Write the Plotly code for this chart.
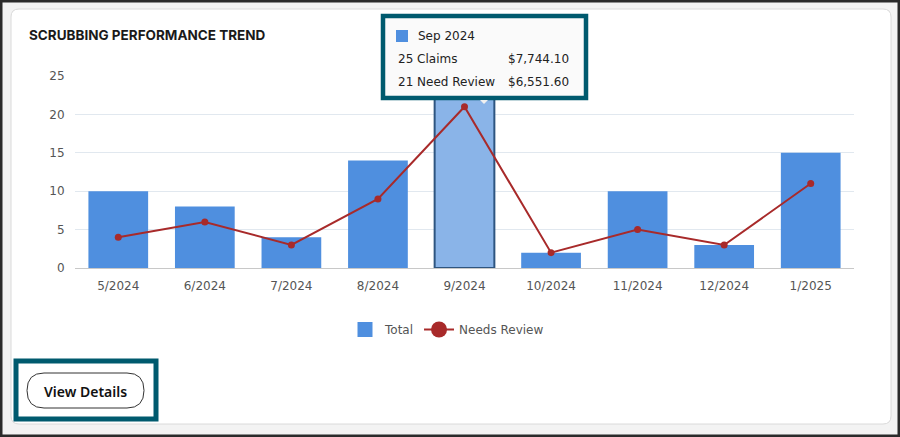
import plotly.graph_objects as go

# ---------- 数据 ----------
months = ["5/2024", "6/2024", "7/2024", "8/2024", "9/2024",
          "10/2024", "11/2024", "12/2024", "1/2025"]
total_claims = [10, 8, 4, 14, 25, 2, 10, 3, 15]
needs_review = [4, 6, 3, 9, 21, 2, 5, 3, 11]
highlight = "9/2024"

tip_title = "Sep 2024"
tip_rows = [("25 Claims", "$7,744.10"), ("21 Need Review", "$6,551.60")]

W, H = 900, 437
L, R, T, B = 75, 46, 76, 169       # 绘图区边距
PW, PH = W - L - R, H - T - B


def px(x):
    return (x - L) / PW


def py(y):
    return (H - B - y) / PH


BLUE = "#4f8fdf"
RED = "#a82a2a"
TEAL = "#005a6e"
FONT = "DejaVu Sans"

bar_colors = ["#8ab4e8" if m == highlight else BLUE for m in months]
bar_lines = ["#2e5580" if m == highlight else BLUE for m in months]
bar_widths = [2 if m == highlight else 0 for m in months]

fig = go.Figure()
fig.add_trace(go.Bar(x=months, y=total_claims, name="Total", showlegend=False,
                     marker=dict(color=bar_colors,
                                 line=dict(color=bar_lines, width=bar_widths))))
fig.add_trace(go.Scatter(x=months, y=needs_review, name="Needs Review",
                         mode="lines+markers", showlegend=False, cliponaxis=False,
                         line=dict(color=RED, width=2),
                         marker=dict(color=RED, size=7)))
# 图例用的占位 trace（图例符号比图上的大）
fig.add_trace(go.Scatter(x=[months[0]], y=[None], name="Total", mode="markers",
                         marker=dict(symbol="square", color=BLUE, size=15)))
fig.add_trace(go.Scatter(x=[months[0]], y=[None], name="Needs Review",
                         mode="lines+markers", line=dict(color=RED, width=2),
                         marker=dict(color=RED, size=16)))

shapes = [
    # 外框 + 卡片
    dict(type="rect", xref="paper", yref="paper", layer="below",
         x0=px(0), x1=px(W), y0=py(H), y1=py(0),
         fillcolor="#f3f3f3", line=dict(color="#2b2b2b", width=5)),
    dict(type="path", xref="paper", yref="paper", layer="below",
         path=(f"M {px(19)} {py(9)} L {px(883)} {py(9)} "
               f"Q {px(891)} {py(9)} {px(891)} {py(17)} "
               f"L {px(891)} {py(416)} Q {px(891)} {py(424)} {px(883)} {py(424)} "
               f"L {px(19)} {py(424)} Q {px(11)} {py(424)} {px(11)} {py(416)} "
               f"L {px(11)} {py(17)} Q {px(11)} {py(9)} {px(19)} {py(9)} Z"),
         fillcolor="white", line=dict(color="#dadada", width=1)),
    # tooltip
    dict(type="rect", xref="paper", yref="paper", layer="above",
         x0=px(383), x1=px(586), y0=py(98), y1=py(16),
         fillcolor="#fafafa", line=dict(color=TEAL, width=4.5)),
    dict(type="rect", xref="paper", yref="paper", layer="above",
         x0=px(396), x1=px(408), y0=py(42), y1=py(30),
         fillcolor=BLUE, line=dict(width=0)),
    dict(type="path", xref="paper", yref="paper", layer="above",
         path=f"M {px(480)} {py(100)} L {px(488)} {py(100)} L {px(484)} {py(104)} Z",
         fillcolor="#f0f0f0", line=dict(width=0)),
    # View Details 按钮
    dict(type="rect", xref="paper", yref="paper", layer="above",
         x0=px(16), x1=px(156), y0=py(419), y1=py(361),
         fillcolor="white", line=dict(color=TEAL, width=5)),
    dict(type="path", xref="paper", yref="paper", layer="above",
         path=(f"M {px(44)} {py(373)} L {px(127)} {py(373)} "
               f"Q {px(144)} {py(373)} {px(144)} {py(390.5)} "
               f"Q {px(144)} {py(408)} {px(127)} {py(408)} "
               f"L {px(44)} {py(408)} Q {px(27)} {py(408)} {px(27)} {py(390.5)} "
               f"Q {px(27)} {py(373)} {px(44)} {py(373)} Z"),
         fillcolor="white", line=dict(color="#333333", width=1)),
]

ann = [
    dict(text="<b>SCRUBBING PERFORMANCE TREND</b>", x=px(27), y=py(35),
         xanchor="left", yanchor="middle",
         font=dict(family="Inter", size=13.5, color="#1a1a1a")),
    dict(text=tip_title, x=px(416), y=py(36), xanchor="left", yanchor="middle",
         font=dict(family=FONT, size=12, color="#222")),
    dict(text="View Details", x=px(85.5), y=py(391), xanchor="center", yanchor="middle",
         font=dict(family="Noto Sans", size=14, color="#111", weight=600)),
]
for i, (lab, val) in enumerate(tip_rows):
    yy = py(59 + 23 * i)
    ann.append(dict(text=lab, x=px(396), y=yy, xanchor="left", yanchor="middle",
                    font=dict(family=FONT, size=12, color="#222")))
    ann.append(dict(text=val, x=px(571), y=yy, xanchor="right", yanchor="middle",
                    font=dict(family=FONT, size=12, color="#222")))
for a in ann:
    a.update(xref="paper", yref="paper", showarrow=False)

fig.update_layout(
    width=W, height=H, margin=dict(l=L, r=R, t=T, b=B, autoexpand=False),
    paper_bgcolor="#f3f3f3", plot_bgcolor="rgba(0,0,0,0)",
    bargap=0.31, showlegend=True, hovermode=False,
    font=dict(family=FONT, size=12, color="#555"),
    legend=dict(orientation="h", x=px(447), xanchor="center",
                y=py(329.5), yanchor="middle", font=dict(size=12, color="#555"),
                bgcolor="rgba(0,0,0,0)"),
    shapes=shapes, annotations=ann,
)
fig.update_xaxes(range=[-0.5, len(months) - 0.5], showgrid=False, showline=True,
                 linecolor="#c8c8c8", linewidth=1,
                 ticks="", ticklabelstandoff=7, automargin=False)
fig.update_yaxes(range=[0, 25], tickvals=[0, 5, 10, 15, 20, 25],
                 gridcolor="#e1e8ef", zeroline=False,
                 ticks="outside", ticklen=7, tickcolor="rgba(0,0,0,0)",
                 automargin=False)

fig.write_html("out.html", config={"displayModeBar": False},
               post_script="document.body.style.margin='0';")
